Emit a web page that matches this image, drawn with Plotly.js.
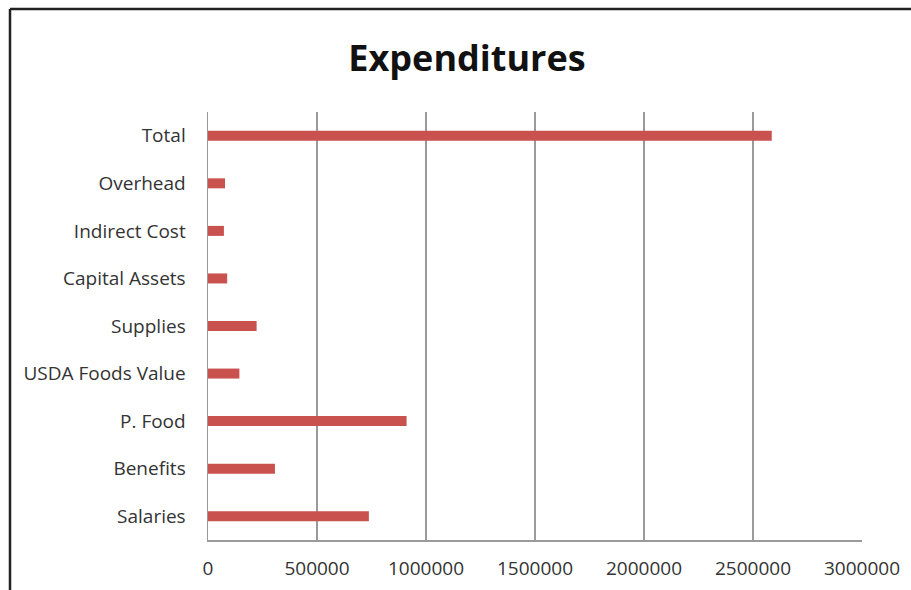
<!DOCTYPE html>
<html>
<head>
<meta charset="utf-8">
<script src="https://cdn.plot.ly/plotly-3.0.1.min.js"></script>
<style>
  html, body { margin: 0; padding: 0; background: #fff; }
  #chart { width: 911px; height: 590px; }
</style>
</head>
<body>
<div id="chart"></div>
<script>
// Data (bottom to top, as Plotly draws categories on a horizontal bar chart)
const categories = ["Salaries", "Benefits", "P. Food", "USDA Foods Value", "Supplies", "Capital Assets", "Indirect Cost", "Overhead", "Total"];
const amounts = [738000, 307000, 911000, 144000, 223000, 88000, 73000, 78000, 2586000];
const xTickValues = [0, 500000, 1000000, 1500000, 2000000, 2500000, 3000000];
const xTickLabels = ["0", "500000", "1000000", "1500000", "2000000", "2500000", "3000000"];
const chartTitle = "Expenditures";

const W = 911, H = 590;
const M = { l: 208, r: 49, t: 112, b: 50 };
const pw = W - M.l - M.r, ph = H - M.t - M.b;
const px = p => (p - M.l) / pw;          // pixel x -> paper x
const py = p => (H - M.b - p) / ph;      // pixel y -> paper y

const trace = {
  type: 'bar',
  orientation: 'h',
  y: categories,
  x: amounts,
  marker: { color: '#c9514e', line: { width: 0 } },
  hoverinfo: 'x+y'
};

const layout = {
  width: W, height: H,
  margin: M,
  paper_bgcolor: '#ffffff',
  plot_bgcolor: '#ffffff',
  showlegend: false,
  bargap: 0.79,
  font: { family: '"Open Sans", "Noto Sans", sans-serif', color: '#333333', size: 19 },
  title: {
    text: '<b>' + chartTitle + '</b>',
    font: { family: '"Open Sans", "Noto Sans", sans-serif', size: 36, color: '#111111' },
    xref: 'container', x: 467 / W, xanchor: 'center',
    yref: 'container', y: 1 - 58 / H, yanchor: 'middle'
  },
  xaxis: {
    range: [0, 3000000],
    tickvals: xTickValues,
    ticktext: xTickLabels,
    showgrid: true, gridcolor: '#9a9a9a', gridwidth: 1.5,
    zeroline: false,
    showline: true, linecolor: '#9a9a9a', linewidth: 1.5,
    ticks: '', ticklabelstandoff: 11,
    tickfont: { size: 19, color: '#333333' },
    fixedrange: true
  },
  yaxis: {
    type: 'category',
    categoryorder: 'array', categoryarray: categories,
    showgrid: false, zeroline: false,
    showline: true, linecolor: '#9a9a9a', linewidth: 1.5,
    ticks: '', ticklabelstandoff: 17,
    tickfont: { size: 19, color: '#333333' },
    fixedrange: true
  },
  shapes: [
    { type: 'line', xref: 'paper', yref: 'paper', x0: px(10), x1: px(10), y0: py(9), y1: py(H + 5), line: { color: '#222222', width: 2.5 } },
    { type: 'line', xref: 'paper', yref: 'paper', x0: px(10), x1: px(W + 5), y0: py(9), y1: py(9), line: { color: '#222222', width: 2.5 } }
  ]
};

Plotly.newPlot('chart', [trace], layout, { displayModeBar: false, staticPlot: true });
</script>
</body>
</html>
